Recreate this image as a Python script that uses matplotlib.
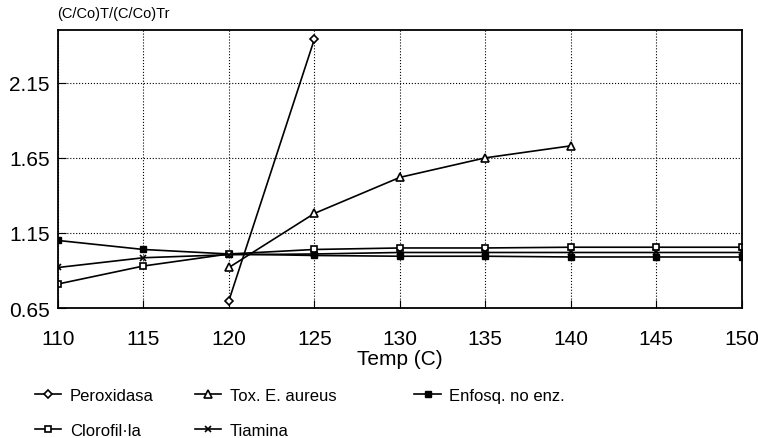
import numpy as np
import matplotlib
matplotlib.use('Agg')
import matplotlib.pyplot as plt

plt.rcParams['font.family'] = ['Liberation Sans', 'DejaVu Sans']

# data
temps = [110, 115, 120, 125, 130, 135, 140, 145, 150]
perox_t = [120, 125]
perox = [0.70, 2.44]
tox_t = [120, 125, 130, 135, 140]
tox = [0.92, 1.28, 1.52, 1.65, 1.73]
enfosq = [1.10, 1.04, 1.01, 1.00, 0.995, 0.995, 0.99, 0.99, 0.99]
clorof = [0.81, 0.93, 1.01, 1.04, 1.05, 1.05, 1.055, 1.055, 1.055]
tiamina = [0.92, 0.985, 1.005, 1.01, 1.02, 1.02, 1.02, 1.02, 1.02]

xticks = [110, 115, 120, 125, 130, 135, 140, 145, 150]
yticks = [0.65, 1.15, 1.65, 2.15]

fig = plt.figure(figsize=(7.58, 4.39), dpi=100)
ax = fig.add_axes([0.0765, 0.296, 0.902, 0.633])

lw = 1.2
p1, = ax.plot(perox_t, perox, color='black', lw=lw, marker='D', ms=4, mfc='white', mew=1.2, label='Peroxidasa')
p2, = ax.plot(tox_t, tox, color='black', lw=lw, marker='^', ms=6, mfc='white', mew=1.2, label='Tox. E. aureus')
p3, = ax.plot(temps, enfosq, color='black', lw=lw, marker='s', ms=5, mfc='black', label='Enfosq. no enz.')
p4, = ax.plot(temps, clorof, color='black', lw=lw, marker='s', ms=5, mfc='white', mew=1.2, label='Clorofil·la')
p5, = ax.plot(temps, tiamina, color='black', lw=lw, marker='x', ms=5, mew=1.2, label='Tiamina')

ax.set_xlim(110, 150)
ax.set_ylim(0.65, 2.50)
ax.set_xticks(xticks)
ax.set_yticks(yticks)
ax.set_yticklabels(['%.2f' % v for v in yticks])
ax.tick_params(direction='in', length=6, labelsize=15)
ax.tick_params(axis='x', pad=15)
ax.tick_params(axis='y', pad=6)
ax.grid(True, linestyle=':', color='black', lw=0.8)
for s in ax.spines.values():
    s.set_linewidth(1.3)
ax.set_xlabel('Temp (C)', fontsize=15, labelpad=1)
fig.text(0.076, 0.952, '(C/Co)T/(C/Co)Tr', fontsize=10.5, ha='left', va='bottom')

# legend in three columns below the plot
common = dict(frameon=False, fontsize=12, handlelength=1.6, handletextpad=0.5,
              labelspacing=1.18, borderaxespad=0, loc='upper left')
fig.legend(handles=[p1, p4], bbox_to_anchor=(0.037, 0.129), **common)
fig.legend(handles=[p2, p5], bbox_to_anchor=(0.248, 0.129), **common)
fig.legend(handles=[p3], bbox_to_anchor=(0.538, 0.129), **common)

fig.savefig('out.png', dpi=100)
